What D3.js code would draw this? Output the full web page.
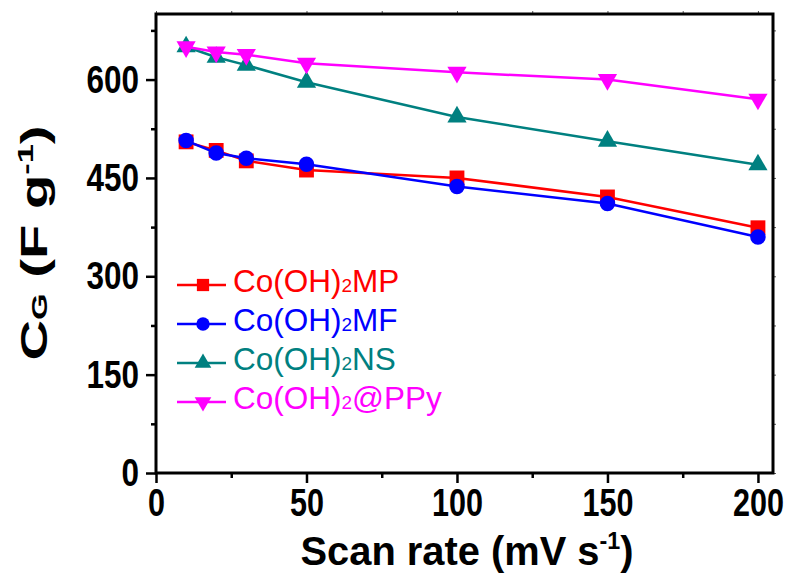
<!DOCTYPE html>
<html>
<head>
<meta charset="utf-8">
<script src="https://cdn.jsdelivr.net/npm/d3@7"></script>
<style>
  body { margin: 0; background: #fff; }
  svg { display: block; font-family: "Liberation Sans", Arial, sans-serif; }
</style>
</head>
<body>
<div id="chart"></div>
<script>
// scan rates (mV s-1)
const scanRates = [10, 20, 30, 50, 100, 150, 200];

// specific capacitance (F g-1) per sample
const mpValues = [505, 492, 476, 462, 450, 421, 374];
const mfValues = [507, 488, 480, 471, 437, 411, 360];
const nsValues = [650, 634, 622, 596, 543, 506, 470];
const ppyValues = [650, 642, 638, 625, 611, 600, 570];

const seriesNames = ["MP", "MF", "NS", "@PPy"];
const seriesColors = ["#ff0000", "#0000ff", "#008080", "#ff00ff"];

const xTicks = [0, 50, 100, 150, 200];
const yTicks = [0, 150, 300, 450, 600];

const W = 793, H = 578;

const svg = d3.select("#chart").append("svg")
  .attr("width", W)
  .attr("height", H);

svg.append("rect").attr("width", W).attr("height", H).attr("fill", "#fff");

// scales
const x = d3.scaleLinear().domain([0, 205]).range([156, 773]);
const y = d3.scaleLinear().domain([0, 700]).range([473, 14]);

const series = [mpValues, mfValues, nsValues, ppyValues].map((vals, i) => ({
  name: seriesNames[i],
  color: seriesColors[i],
  values: scanRates.map((r, j) => ({ x: r, y: vals[j] }))
}));

const symbols = [
  { type: d3.symbolSquare, size: 220, rot: 0 },
  { type: d3.symbolCircle, size: 190, rot: 0 },
  { type: d3.symbolTriangle, size: 160, rot: 0 },
  { type: d3.symbolTriangle, size: 160, rot: 180 }
];
const legendSymbols = [
  { type: d3.symbolSquare, size: 150, rot: 0 },
  { type: d3.symbolCircle, size: 140, rot: 0 },
  { type: d3.symbolTriangle, size: 120, rot: 0 },
  { type: d3.symbolTriangle, size: 120, rot: 180 }
];

// minor / opposite ticks (drawn first so the frame sits on top)
const tickGrey = "#555";
svg.append("g")
  .attr("transform", `translate(0,${y(0)})`)
  .call(d3.axisBottom(x).tickValues([25, 75, 125, 175]).tickSize(5).tickFormat(""))
  .call(g => g.select(".domain").remove())
  .call(g => g.selectAll("line").attr("stroke-width", 2.5));
svg.append("g")
  .attr("transform", `translate(${x(0)},0)`)
  .call(d3.axisLeft(y).tickValues([75, 225, 375, 525, 675]).tickSize(5).tickFormat(""))
  .call(g => g.select(".domain").remove())
  .call(g => g.selectAll("line").attr("stroke-width", 2.5));
svg.append("g")
  .attr("transform", `translate(0,${y(700)})`)
  .call(d3.axisTop(x).tickValues(d3.range(0, 201, 25)).tickSize(3).tickFormat(""))
  .call(g => g.select(".domain").remove())
  .call(g => g.selectAll("line").attr("stroke", tickGrey).attr("stroke-width", 1));
svg.append("g")
  .attr("transform", `translate(${x(205)},0)`)
  .call(d3.axisRight(y).tickValues(d3.range(0, 701, 75)).tickSize(3).tickFormat(""))
  .call(g => g.select(".domain").remove())
  .call(g => g.selectAll("line").attr("stroke", tickGrey).attr("stroke-width", 1));

// major axes
const xAxis = svg.append("g")
  .attr("transform", `translate(0,${y(0)})`)
  .call(d3.axisBottom(x).tickValues(xTicks).tickSize(10).tickPadding(5))
  .call(g => g.select(".domain").remove());
xAxis.selectAll("line").attr("stroke-width", 2.5);
xAxis.selectAll("text")
  .attr("fill", "#000")
  .style("font-size", "39px")
  .style("font-weight", "bold")
  .attr("textLength", d => String(d).length * 17)
  .attr("lengthAdjust", "spacingAndGlyphs");

const yAxis = svg.append("g")
  .attr("transform", `translate(${x(0)},0)`)
  .call(d3.axisLeft(y).tickValues(yTicks).tickSize(10).tickPadding(7))
  .call(g => g.select(".domain").remove());
yAxis.selectAll("line").attr("stroke-width", 2.5);
yAxis.selectAll("text")
  .attr("fill", "#000")
  .style("font-size", "39px")
  .style("font-weight", "bold")
  .attr("textLength", d => String(d).length * 17.5)
  .attr("lengthAdjust", "spacingAndGlyphs");

// frame
svg.append("rect")
  .attr("x", x(0)).attr("y", y(700))
  .attr("width", x(205) - x(0)).attr("height", y(0) - y(700))
  .attr("fill", "none").attr("stroke", "#000").attr("stroke-width", 3);

// lines + markers
const line = d3.line().x(d => x(d.x)).y(d => y(d.y));
series.forEach((s, i) => {
  const g = svg.append("g");
  g.append("path")
    .attr("d", line(s.values))
    .attr("fill", "none")
    .attr("stroke", s.color)
    .attr("stroke-width", 2.5);
  g.selectAll("path.pt")
    .data(s.values)
    .enter().append("path")
    .attr("class", "pt")
    .attr("d", d3.symbol().type(symbols[i].type).size(symbols[i].size))
    .attr("transform", d => `translate(${x(d.x)},${y(d.y)}) rotate(${symbols[i].rot})`)
    .attr("fill", s.color);
});

// legend
const legend = svg.append("g");
series.forEach((s, i) => {
  const ly = 285 + i * 39;
  legend.append("line")
    .attr("x1", 177).attr("x2", 226)
    .attr("y1", ly).attr("y2", ly)
    .attr("stroke", s.color).attr("stroke-width", 2.5);
  legend.append("path")
    .attr("d", d3.symbol().type(legendSymbols[i].type).size(legendSymbols[i].size))
    .attr("transform", `translate(203,${ly}) rotate(${legendSymbols[i].rot})`)
    .attr("fill", s.color);
  const t = legend.append("text")
    .attr("x", 233).attr("y", ly + 7)
    .attr("fill", s.color)
    .style("font-size", "31.5px");
  t.append("tspan").text("Co(OH)");
  t.append("tspan").style("font-size", "19px").text("2");
  t.append("tspan").text(s.name);
});

// axis titles
const xt = svg.append("text")
  .attr("x", 467).attr("y", 565)
  .attr("text-anchor", "middle")
  .style("font-size", "41px")
  .style("font-weight", "bold")
  .attr("textLength", 333)
  .attr("lengthAdjust", "spacingAndGlyphs");
xt.append("tspan").text("Scan rate (mV s");
xt.append("tspan").attr("dy", -16).style("font-size", "24px").text("-1");
xt.append("tspan").attr("dy", 16).text(")");

const yt = svg.append("text")
  .attr("transform", "translate(47,243) rotate(-90)")
  .attr("text-anchor", "middle")
  .style("font-size", "36px")
  .style("font-weight", "bold")
  .attr("textLength", 235)
  .attr("lengthAdjust", "spacingAndGlyphs");
yt.append("tspan").text("C");
yt.append("tspan").style("font-size", "22px").text("G");
yt.append("tspan").text(" (F g");
yt.append("tspan").attr("dy", -14).style("font-size", "22px").text("-1");
yt.append("tspan").attr("dy", 14).text(")");
</script>
</body>
</html>
